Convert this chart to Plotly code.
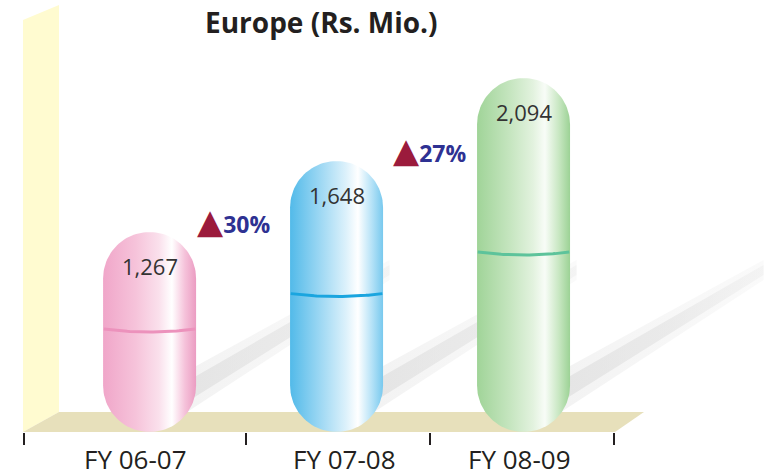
import numpy as np
import plotly.graph_objects as go

# ---------------- data ----------------
categories = ["FY 06-07", "FY 07-08", "FY 08-09"]
values = [1267, 1648, 2094]
growth_labels = ["30%", "27%"]
title_text = "Europe (Rs. Mio.)"

# ---------------- layout geometry ----------------
W, H = 764, 476
M_B = 44
PH = H - M_B
X_RANGE = [-0.8, 3.286]
Y_RANGE = [193, 2513]
PXX = W / (X_RANGE[1] - X_RANGE[0])
PXY = PH / (Y_RANGE[1] - Y_RANGE[0])
boundary_ticks = [-0.67, 0.515, 1.5, 2.485]

R_PX = 46.5
HW = R_PX / PXX
RY = R_PX / PXY
BASE = Y_RANGE[0]

capsule_scales = [
    [[0, '#F0A6C9'], [0.35, '#F6C3DA'], [0.6, '#FAE0EC'], [0.74, '#FFFFFF'], [0.88, '#F5C2DA'], [1, '#EB9CC2']],
    [[0, '#52BAE9'], [0.35, '#A3DAF4'], [0.6, '#DCF1FB'], [0.73, '#FFFFFF'], [0.88, '#B5E2F7'], [1, '#78C9EE']],
    [[0, '#A0D498'], [0.35, '#C5E5BF'], [0.6, '#E2F2DE'], [0.73, '#F8FCF7'], [0.88, '#C8E7C2'], [1, '#9CD295']],
]
mid_colors = ['#EC92BC', '#1AA5DF', '#5DC39B']

fig = go.Figure()

# shadows (decorative, soft, behind capsules)
def add_shadow(cx, thick_lo, thick_hi, colors):
    def P(dx, py):
        return cx + dx / PXX, Y_RANGE[0] + (PH - py) / PXY
    pts = [P(10, 408 + thick_lo), P(240, 270 + thick_hi), P(240, 270 - thick_hi), P(10, 408 - thick_lo)]
    xs = [p[0] for p in pts] + [pts[0][0]]
    ys = [p[1] for p in pts] + [pts[0][1]]
    fig.add_trace(go.Scatter(
        x=xs, y=ys, mode='lines', fill='toself', line=dict(width=0),
        fillgradient=dict(type='horizontal', colorscale=colors),
        hoverinfo='skip', showlegend=False))

for i, v in enumerate(values):
    add_shadow(i, 22, 10, [[0, 'rgba(225,225,225,0.45)'], [1, 'rgba(235,235,235,0.25)']])
    add_shadow(i, 11, 5, [[0, 'rgba(215,215,215,0.55)'], [0.6, 'rgba(222,222,222,0.5)'], [1, 'rgba(232,232,232,0.35)']])

# capsules
for i, v in enumerate(values):
    cx = i
    t1 = np.linspace(0, np.pi, 60)
    xt = cx + HW * np.cos(t1)
    yt = (v - RY) + RY * np.sin(t1)
    t2 = np.linspace(np.pi, 2 * np.pi, 60)
    xb = cx + HW * np.cos(t2)
    yb = (BASE + RY) + RY * np.sin(t2)
    xs = np.concatenate([xt, xb, [xt[0]]])
    ys = np.concatenate([yt, yb, [yt[0]]])
    fig.add_trace(go.Scatter(
        x=xs, y=ys, mode='lines', fill='toself', line=dict(width=0),
        fillgradient=dict(type='horizontal', colorscale=capsule_scales[i]),
        hoverinfo='skip', showlegend=False))
    # middle seam line
    s = np.linspace(-0.985, 0.985, 40)
    ymid = (v + BASE) / 2
    dip = 3 / PXY
    fig.add_trace(go.Scatter(
        x=cx + HW * s, y=ymid - dip * (1 - s ** 2) + dip, mode='lines',
        line=dict(color=mid_colors[i], width=3), hoverinfo='skip', showlegend=False))

annotations = []
# value labels
for i, v in enumerate(values):
    annotations.append(dict(x=i, y=v, xref='x', yref='y', text=f"{v:,}", showarrow=False,
                            yshift=-34, font=dict(family='Open Sans', size=22, color='#333333')))
# category labels
label_xshift = [-14, 8, -4]
for i, c in enumerate(categories):
    annotations.append(dict(x=i, y=0, xref='x', yref='paper', text=c, showarrow=False,
                            yanchor='middle', yshift=-27, xshift=label_xshift[i],
                            font=dict(family='Open Sans', size=26, color='#231F20')))
# growth labels
growth_xshift = [-10, -1]
for i, g in enumerate(growth_labels):
    annotations.append(dict(
        x=i + 0.5, y=values[i], xref='x', yref='y', showarrow=False,
        yshift=11, xshift=growth_xshift[i],
        text=(f'<span style="font-family:\'DejaVu Sans\';font-size:34px;color:#9B1B3C">▲</span>'
              f'<b>{g}</b>'),
        font=dict(family='Open Sans', size=23, color='#2E3192')))
# title
annotations.append(dict(x=203 / W, y=1.0, xref='paper', yref='paper', text=f"<b>{title_text}</b>",
                        showarrow=False, xanchor='left', yanchor='top', yshift=-1,
                        font=dict(family='Open Sans', size=28, color='#231F20')))

def pp(px, py):
    return f"{px / W:.4f},{(PH - py) / PH:.4f}"

shapes = [
    # back wall
    dict(type='path', xref='paper', yref='paper', layer='below', line=dict(width=0),
         fillcolor='#FFFBD0',
         path=f"M{pp(23, 20)} L{pp(59, 5)} L{pp(59, 412)} L{pp(23, 432)} Z"),
    # floor
    dict(type='path', xref='paper', yref='paper', layer='below', line=dict(width=0),
         fillcolor='#E7E0BB',
         path=f"M{pp(23, 432)} L{pp(59, 412)} L{pp(644, 412)} L{pp(615, 432)} Z"),
]

fig.update_layout(
    width=W, height=H,
    margin=dict(l=0, r=0, t=0, b=M_B, pad=0),
    paper_bgcolor='white', plot_bgcolor='white',
    showlegend=False,
    annotations=annotations, shapes=shapes,
    xaxis=dict(range=X_RANGE, tickvals=boundary_ticks, ticktext=['', '', '', ''],
               ticks='outside', ticklen=12, tickwidth=2, tickcolor='#231F20',
               showgrid=False, zeroline=False, showline=False, fixedrange=True),
    yaxis=dict(range=Y_RANGE, visible=False, showgrid=False, zeroline=False, fixedrange=True),
)

fig.write_html("out.html")
